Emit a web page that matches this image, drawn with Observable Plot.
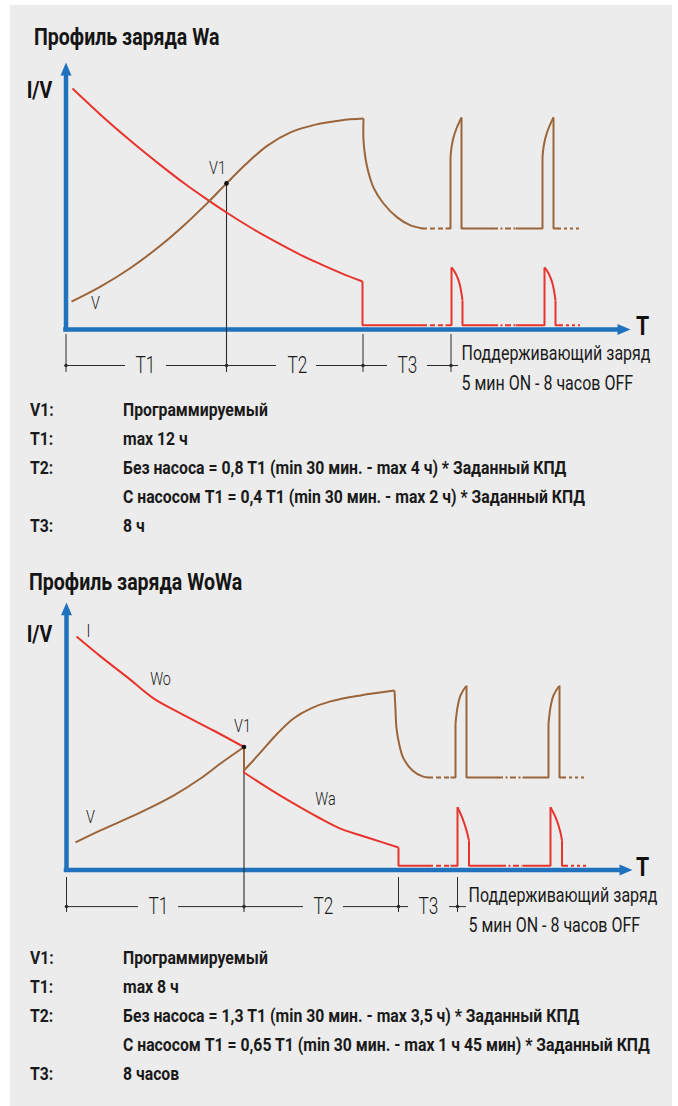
<!DOCTYPE html>
<html><head><meta charset="utf-8">
<script src="https://cdn.jsdelivr.net/npm/d3@7"></script>
<script src="https://cdn.jsdelivr.net/npm/@observablehq/plot@0.6"></script>
<style>
html,body{margin:0;padding:0;background:#fff;}
#page{position:relative;width:678px;height:1106px;overflow:hidden;font-family:Roboto,"Open Sans",sans-serif;color:#151515;}
#panel{position:absolute;left:10px;top:5px;width:662px;height:1101px;background:#ececec;}
.abs{position:absolute;white-space:nowrap;}
.title{font-weight:700;font-size:23px;line-height:23px;transform:scaleX(0.85);transform-origin:0 50%;}
.row{font-weight:700;font-size:19px;line-height:18px;transform:scaleX(0.83);transform-origin:0 50%;color:#1a1a1a;}
.chart{position:absolute;left:0;}
</style></head><body><div id="page"><div id="panel"></div></div>
<script>
// ================= Профиль заряда Wa =================
const waTitle = "Профиль заряда Wa";
// time units (t) along T, level units (v) along I/V
const waCurrentMain = [[1.3,80.3],[6.9,71.6],[12.9,62.9],[18.9,54.8],[23.9,48.4],[27.9,43.7],[32.1,39.0],[36.9,34.0],[40.9,30.2],[46.9,24.9],[50.9,21.8],[54.9,18.9],[59.3,16.0]];
const waCurrentPulses = [
  [[77.1,20.7],[77.7,19.3],[78.3,17.3],[78.8,14.7],[79.1,12.0],[79.3,9.7]],
  [[95.7,20.7],[96.3,19.3],[96.9,17.3],[97.4,14.7],[97.7,12.0],[97.9,9.7]]
];
const waCurrentSteps = [
  [[59.3,16.0],[59.3,1.4],[71.3,1.4]],
  [[75.9,1.4],[77.1,1.4],[77.1,20.7]],
  [[79.3,9.7],[79.3,1.4],[85.3,1.4]],
  [[89.9,1.4],[95.7,1.4],[95.7,20.7]],
  [[97.9,9.7],[97.9,1.4],[98.9,1.4]]
];
const waCurrentGaps = [
  {from:71.3, to:75.9, level:1.4, kind:"dash"},
  {from:85.3, to:89.9, level:1.4, kind:"dashdot"},
  {from:98.9, to:102.9, level:1.4, kind:"dot"}
];
const waVoltageMain = [[1.1,9.3],[6.9,14.3],[12.9,20.5],[18.9,28.0],[23.9,35.2],[28.3,42.2],[32.1,48.7],[35.9,55.0],[40.3,61.3],[44.9,65.7],[49.9,68.3],[54.9,69.7],[59.5,70.3]];
const waVoltageFall = [[59.5,70.3],[59.5,63.0],[59.9,57.0],[60.5,52.3],[61.5,47.3],[63.5,42.0],[66.3,37.3],[68.9,34.7],[71.3,33.7]];
const waVoltagePulses = [
  [[76.9,57.3],[77.1,60.7],[77.5,64.0],[78.1,67.0],[79.1,70.7]],
  [[95.3,57.3],[95.5,60.7],[95.9,64.0],[96.5,67.0],[97.5,70.7]]
];
const waVoltageSteps = [
  [[75.9,33.7],[76.9,33.7],[76.9,57.3]],
  [[79.1,70.7],[79.1,33.7],[85.3,33.7]],
  [[89.9,33.7],[95.3,33.7],[95.3,57.3]],
  [[97.5,70.7],[97.5,33.7],[98.5,33.7]]
];
const waVoltageGaps = [
  {from:71.3, to:75.9, level:33.7, kind:"dash"},
  {from:85.3, to:89.9, level:33.7, kind:"dashdot"},
  {from:98.5, to:102.9, level:33.7, kind:"dot"}
];
const waV1 = {t:32.1, v:48.7};
const waPhaseBounds = [0, 32.1, 59.4, 77.0];
const waPhaseNames = ["T1", "T2", "T3"];
const waPhaseLabelAt = [15.9, 46.3, 68.3];
const waDimSegments = [[-0.1,11.9],[20.1,42.1],[50.1,64.3],[72.3,78.5]];
const waCurveLabels = [{text:"V1", t:30.3, v:53.7}, {text:"V", t:5.9, v:8.7}];
const waNoteKeys = ["V1:", "T1:", "T2:", "", "T3:"];
const waNoteValues = [
  "Программируемый",
  "max 12 ч",
  "Без насоса = 0,8 T1 (min 30 мин. - max 4 ч) * Заданный КПД",
  "С насосом T1 = 0,4 T1 (min 30 мин. - max 2 ч) * Заданный КПД",
  "8 ч"
];

// ================= Профиль заряда WoWa =================
const wowaTitle = "Профиль заряда WoWa";
const wowaCurrentWo = [[2.0,77.8],[6.8,71.2],[12.2,64.2],[17.4,57.2],[22.8,52.2],[29.4,46.5],[35.5,41.0]];
const wowaCurrentWa = [[35.5,32.5],[40.8,26.8],[45.4,22.2],[50.4,17.5],[54.8,13.8],[60.8,10.5],[66.4,7.5]];
const wowaCurrentPulses = [
  [[78.2,20.9],[79.1,17.6],[80.0,13.2],[80.5,9.8]],
  [[96.8,20.9],[97.8,17.6],[98.7,13.2],[99.1,9.8]]
];
const wowaCurrentSteps = [
  [[35.5,41.0],[35.5,32.5]],
  [[66.4,7.5],[66.4,1.4],[72.4,1.4]],
  [[76.8,1.4],[78.2,1.4],[78.2,20.9]],
  [[80.5,9.8],[80.5,1.4],[86.8,1.4]],
  [[91.2,1.4],[96.8,1.4],[96.8,20.9]],
  [[99.1,9.8],[99.1,1.4],[99.8,1.4]]
];
const wowaCurrentGaps = [
  {from:72.4, to:76.8, level:1.4, kind:"dash"},
  {from:86.8, to:91.2, level:1.4, kind:"dashdot"},
  {from:99.8, to:104.2, level:1.4, kind:"dot"}
];
const wowaVoltageMain = [[1.8,9.2],[6.8,13.2],[14.8,19.2],[21.4,24.8],[26.8,30.5],[30.8,35.5],[35.5,41.0]];
const wowaVoltageRise = [[35.5,33.2],[36.8,35.5],[38.8,39.2],[42.2,45.5],[45.4,50.5],[48.8,53.8],[52.8,56.2],[58.8,58.2],[65.6,59.8]];
const wowaVoltageFall = [[65.6,59.8],[65.8,53.2],[66.0,47.2],[66.6,41.5],[67.4,37.2],[69.2,33.2],[71.2,31.2],[72.4,30.8]];
const wowaVoltagePulses = [
  [[77.8,48.8],[78.2,54.2],[78.8,58.2],[80.0,61.5]],
  [[96.4,48.8],[96.8,54.2],[97.4,58.2],[98.6,61.5]]
];
const wowaVoltageSteps = [
  [[35.5,41.0],[35.5,33.2]],
  [[76.8,30.8],[77.8,30.8],[77.8,48.8]],
  [[80.0,61.5],[80.0,30.8],[86.2,30.8]],
  [[91.2,30.8],[96.4,30.8],[96.4,48.8]],
  [[98.6,61.5],[98.6,30.8],[99.4,30.8]]
];
const wowaVoltageGaps = [
  {from:72.4, to:76.8, level:30.8, kind:"dash"},
  {from:86.2, to:91.2, level:30.8, kind:"dashdot"},
  {from:99.4, to:104.2, level:30.8, kind:"dot"}
];
const wowaV1 = {t:35.5, v:41.0};
const wowaPhaseBounds = [0, 35.5, 66.4, 78.2];
const wowaPhaseNames = ["T1", "T2", "T3"];
const wowaPhaseLabelAt = [18.4, 51.4, 72.4];
const wowaDimSegments = [[0,14.4],[22.4,47.4],[55.4,68.4],[76.6,80.0]];
const wowaCurveLabels = [
  {text:"I", t:4.4, v:79.5}, {text:"Wo", t:18.8, v:63.5}, {text:"V1", t:35.2, v:47.8},
  {text:"Wa", t:51.8, v:23.5}, {text:"V", t:4.8, v:17.5}
];
const wowaNoteKeys = ["V1:", "T1:", "T2:", "", "T3:"];
const wowaNoteValues = [
  "Программируемый",
  "max 8 ч",
  "Без насоса = 1,3 T1 (min 30 мин. - max 3,5 ч) * Заданный КПД",
  "С насосом T1 = 0,65 T1 (min 30 мин. - max 1 ч 45 мин) * Заданный КПД",
  "8 часов"
];
const axisNames = {y: "I/V", x: "T"};
const maintenanceText = ["Поддерживающий заряд", "5 мин ON - 8 часов OFF"];

// ================= drawing =================
const C = {axis:"#1f72bd", current:"#e8342d", voltage:"#9b6439", ink:"#1a1a1a", guide:"#2b2b2b"};
const FONT = "Roboto, 'Open Sans', sans-serif";
const DASH = {dash:"5,3", dashdot:"6,2.5,2,2.5", dot:"3,3"};
// horizontal condensing of the text marks, in mark order (the original uses a condensed typeface)
const TEXT_SQUEEZE = [0.75, 0.8, 0.85, 0.85, 0.82];

const flat = (pieces, tag) => pieces.flatMap((p, k) => p.map(([t, v]) => ({t, v, id: tag + k})));

function diagram(d) {
  const L = (stroke) => ({x:"t", y:"v", z:"id", stroke, strokeWidth:2, strokeLinejoin:"miter", strokeLinecap:"butt"});
  const S = (stroke) => ({...L(stroke), curve:"catmull-rom"});
  const gapMarks = (gaps, stroke) => Object.keys(DASH).map(k =>
    Plot.ruleY(gaps.filter(g => g.kind === k), {x1:"from", x2:"to", y:"level", stroke, strokeWidth:2, strokeDasharray:DASH[k]}));
  const marks = [
    // axes
    Plot.ruleX([0], {y1:-0.75, y2:d.vMax - 4, stroke:C.axis, strokeWidth:4.5}),
    Plot.ruleY([0], {x1:-0.45, x2:d.tMax - 2.4, stroke:C.axis, strokeWidth:4.5}),
    Plot.line([{t:-1.1, v:d.vMax - 4.3}, {t:0, v:d.vMax}, {t:1.1, v:d.vMax - 4.3}], {x:"t", y:"v", fill:C.axis, stroke:"none"}),
    Plot.line([{t:d.tMax - 2.6, v:1.85}, {t:d.tMax, v:0}, {t:d.tMax - 2.6, v:-1.85}], {x:"t", y:"v", fill:C.axis, stroke:"none"}),
    // V1 guide and dimension line
    Plot.ruleX([d.v1], {x:"t", y1:"v", y2:d.tickBottom, stroke:C.guide, strokeWidth:1.1}),
    Plot.ruleX(d.phaseBounds.filter(b => b !== d.v1.t), {y1:d.tickTop, y2:d.tickBottom, stroke:C.guide, strokeWidth:1}),
    Plot.ruleY(d.dimSegments.map(([a, b]) => ({a, b})), {x1:"a", x2:"b", y:d.dimLevel, stroke:C.guide, strokeWidth:1}),
    Plot.dot(d.phaseBounds, {x:b => b, y:d.dimLevel, r:1.8, fill:C.guide, stroke:"none"}),
    // current
    Plot.line(flat(d.currentSmooth, "cs"), S(C.current)),
    Plot.line(flat(d.currentSteps, "cl"), L(C.current)),
    ...gapMarks(d.currentGaps, C.current),
    // voltage
    Plot.line(flat(d.voltageSmooth, "vs"), S(C.voltage)),
    Plot.line(flat(d.voltageSteps, "vl"), L(C.voltage)),
    ...gapMarks(d.voltageGaps, C.voltage),
    Plot.dot([d.v1], {x:"t", y:"v", r:2.3, fill:"#111", stroke:"none"}),
    // texts
    Plot.text(d.phaseNames, {x:(n, i) => d.phaseLabelAt[i], y:d.dimLevel, text:n => n, fontSize:23, fontWeight:300, fill:C.ink, fontFamily:FONT}),
    Plot.text(d.curveLabels, {x:"t", y:"v", text:"text", fontSize:18, fontWeight:300, fill:C.ink, fontFamily:FONT}),
    Plot.text([axisNames.y], {x:d.yNameAt[0], y:d.yNameAt[1], text:n => n, fontSize:23, fontWeight:700, fill:"#111", fontFamily:FONT}),
    Plot.text([axisNames.x], {x:d.xNameAt[0], y:d.xNameAt[1], text:n => n, fontSize:25, fontWeight:700, fill:"#111", fontFamily:FONT}),
    Plot.text(maintenanceText, {x:d.noteAt[0], y:(n, i) => d.noteAt[1][i], text:n => n, textAnchor:"start", fontSize:19.5, fontWeight:400, fill:C.ink, fontFamily:FONT})
  ];
  const svg = Plot.plot({
    width: 678, height: d.height, margin: 0,
    style: {background:"transparent", overflow:"visible"},
    x: {type:"linear", domain:[0, 100], range:[d.origin[0], d.origin[0] + 500], axis:null},
    y: {type:"linear", domain:[0, 100], range:[d.origin[1] - d.top, d.origin[1] - d.top - 300], axis:null},
    marks
  });
  svg.querySelectorAll("g[aria-label='text']").forEach((g, k) => {
    const s = TEXT_SQUEEZE[k] ?? 1;
    g.querySelectorAll("text").forEach(t => {
      t.setAttribute("transform", (t.getAttribute("transform") || "") + ` scale(${s},1)`);
    });
  });
  svg.classList.add("chart");
  svg.style.top = d.top + "px";
  return svg;
}

const page = document.getElementById("page");
function addTitle(text, left, centerY) {
  const el = document.createElement("div");
  el.className = "abs title"; el.textContent = text;
  el.style.left = left + "px"; el.style.top = (centerY - 11.5) + "px";
  page.appendChild(el);
}
function addNotes(keys, values, firstY, step) {
  keys.forEach((k, i) => {
    const y = firstY + i * step - 9;
    const a = document.createElement("div");
    a.className = "abs row"; a.textContent = k; a.style.left = "30px"; a.style.top = y + "px";
    const b = document.createElement("div");
    b.className = "abs row"; b.textContent = values[i]; b.style.left = "123px"; b.style.top = y + "px";
    page.appendChild(a); page.appendChild(b);
  });
}

addTitle(waTitle, 34, 37);
page.appendChild(diagram({
  top: 50, height: 350, origin: [65.5, 329], tMax: 112.9, vMax: 89,
  currentSmooth: [waCurrentMain, ...waCurrentPulses], currentSteps: waCurrentSteps, currentGaps: waCurrentGaps,
  voltageSmooth: [waVoltageMain, waVoltageFall, ...waVoltagePulses], voltageSteps: waVoltageSteps, voltageGaps: waVoltageGaps,
  v1: waV1, phaseBounds: waPhaseBounds, phaseNames: waPhaseNames, phaseLabelAt: waPhaseLabelAt, dimSegments: waDimSegments,
  dimLevel: -12, tickTop: -1.7, tickBottom: -14.3, curveLabels: waCurveLabels,
  yNameAt: [-5.3, 79.7], xNameAt: [115.3, 0.7], noteAt: [79.1, [-8, -18]]
}));
addNotes(waNoteKeys, waNoteValues, 410, 29);

addTitle(wowaTitle, 29, 582);
page.appendChild(diagram({
  top: 590, height: 350, origin: [66, 869.5], tMax: 113.2, vMax: 89.2,
  currentSmooth: [wowaCurrentWo, wowaCurrentWa, ...wowaCurrentPulses], currentSteps: wowaCurrentSteps, currentGaps: wowaCurrentGaps,
  voltageSmooth: [wowaVoltageMain, wowaVoltageRise, wowaVoltageFall, ...wowaVoltagePulses], voltageSteps: wowaVoltageSteps, voltageGaps: wowaVoltageGaps,
  v1: wowaV1, phaseBounds: wowaPhaseBounds, phaseNames: wowaPhaseNames, phaseLabelAt: wowaPhaseLabelAt, dimSegments: wowaDimSegments,
  dimLevel: -12.2, tickTop: -2.5, tickBottom: -14.2, curveLabels: wowaCurveLabels,
  yNameAt: [-5.4, 78.5], xNameAt: [115.2, 0.8], noteAt: [80.4, [-8.5, -18.5]]
}));
addNotes(wowaNoteKeys, wowaNoteValues, 958, 29);
</script></body></html>
